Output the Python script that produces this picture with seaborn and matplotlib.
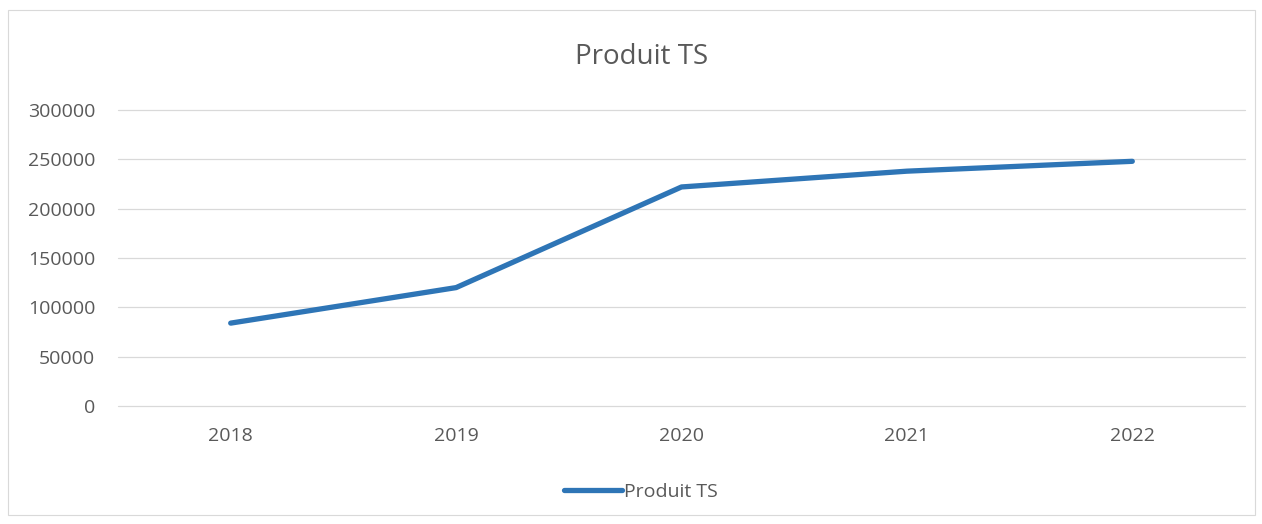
import pandas as pd
import seaborn as sns
import matplotlib
import matplotlib.pyplot as plt
from matplotlib.patches import Rectangle
matplotlib.use('Agg')

sns.set_theme(style="white")
plt.rcParams['font.family'] = ['Open Sans', 'DejaVu Sans']

# data
years = ['2018', '2019', '2020', '2021', '2022']
produit_ts = [84000, 120000, 222000, 238000, 248000]
y_ticks = [0, 50000, 100000, 150000, 200000, 250000, 300000]

df = pd.DataFrame({'annee': years, 'valeur': produit_ts})

line_color = '#2E75B6'
text_color = '#595959'
grid_color = '#d9d9d9'

fig = plt.figure(figsize=(12.62, 5.24), dpi=100)
fig.patches.append(Rectangle((8 / 1262, 1 - 515 / 524), 1247 / 1262, 505 / 524,
                             transform=fig.transFigure, fill=False,
                             edgecolor='#d9d9d9', lw=0.8))
ax = fig.add_axes([118 / 1262, 1 - 406 / 524, 1127 / 1262, 296 / 524])

sns.lineplot(x='annee', y='valeur', data=df, ax=ax, color=line_color,
             linewidth=3.8, label='Produit TS', solid_capstyle='round')

ax.set_xlim(-0.5, 4.5)
ax.set_ylim(0, 300000)
ax.set_yticks(y_ticks)
ax.set_yticklabels([str(v) for v in y_ticks])
ax.grid(axis='y', color=grid_color, linewidth=0.9)
ax.grid(axis='x', visible=False)
for gl in ax.get_ygridlines():
    gl.set_clip_on(False)
ax.set_axisbelow(True)
for s in ax.spines.values():
    s.set_visible(False)
ax.tick_params(axis='both', length=0, colors=text_color, labelsize=14)
ax.tick_params(axis='y', pad=16.5)
ax.tick_params(axis='x', pad=15)
ax.set_xlabel('')
ax.set_ylabel('')

fig.text(0.508, 1 - 57 / 524, 'Produit TS', ha='center', va='center',
         fontsize=20, color='#595959')

ax.legend(loc='center', bbox_to_anchor=(0.464, -0.29), frameon=False,
          fontsize=14, handlelength=3.0, handletextpad=0.1, labelcolor=text_color)

fig.savefig('out.png', dpi=100)
